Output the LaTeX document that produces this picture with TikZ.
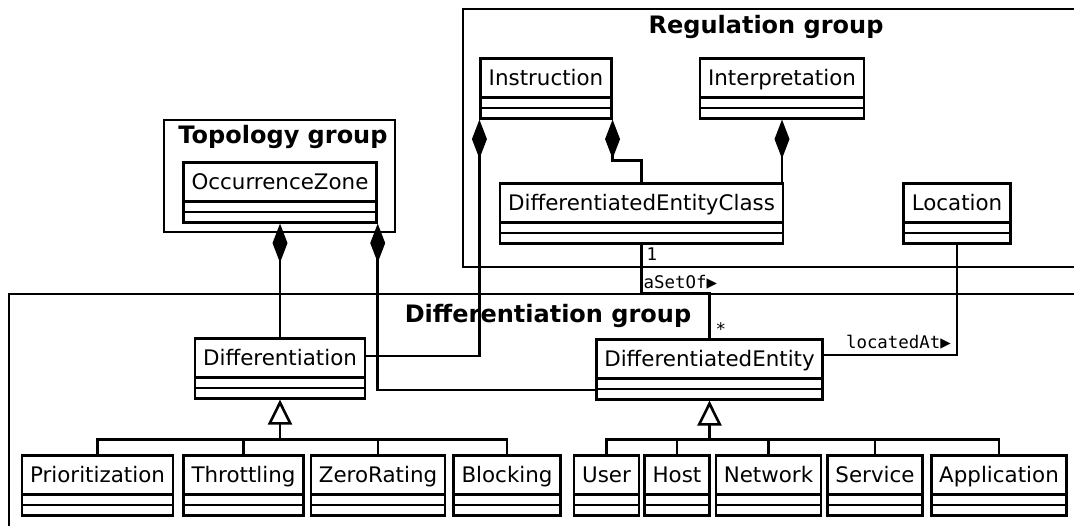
\documentclass[tikz,border=0pt]{standalone}
\usepackage{fontspec}
\setmainfont{DejaVu Sans}
\newfontfamily\labelmono{DejaVu Sans Mono}
\usetikzlibrary{arrows.meta,calc}

\tikzset{
  umlclass/.style={draw, fill=white, line width=2.6pt, inner xsep=8pt, inner ysep=0pt,
    text height=27.5pt, text depth=32.5pt, anchor=north,
    font=\fontsize{21.4}{25}\selectfont,
    path picture={\draw[line width=2.6pt]
      ([yshift=-39pt]path picture bounding box.north west) -- ([yshift=-39pt]path picture bounding box.north east)
      ([yshift=-49.5pt]path picture bounding box.north west) -- ([yshift=-49.5pt]path picture bounding box.north east);}},
  grouptitle/.style={anchor=base, inner sep=0pt, font=\fontsize{24}{28}\selectfont\bfseries},
  groupframe/.style={draw, line width=2.6pt},
  link/.style={draw, line width=2.6pt},
  composition/.style={link, {Diamond[length=39pt,width=15pt]}-},
  inherit/.style={link, -{Triangle[fill=white, length=25pt, width=24pt]}},
  assoclabel/.style={inner sep=0pt, font=\labelmono\fontsize{17.4}{20}\selectfont},
}

\begin{document}
\begin{tikzpicture}[x=1pt, y=-1pt]
  \useasboundingbox (0,0) rectangle (1074,525);
  \clip (0,0) rectangle (1074,525);

  % package frames
  \draw[groupframe] (164,120) rectangle (395,232);
  \draw[groupframe] (463,9) rectangle (1100,267);
  \draw[groupframe] (9,294) rectangle (1100,560);
  \node[grouptitle] (ttopo) at (283,143) {Topology group};
  \node[grouptitle] (treg) at (766,33) {Regulation group};
  \node[grouptitle] (tdiff) at (548,322) {Differentiation group};

  % regulation group
  \node[umlclass] (instr)  at (546,57)   {Instruction};
  \node[umlclass] (interp) at (782,57)   {Interpretation};
  \node[umlclass] (dec)    at (641.5,182) {DifferentiatedEntityClass};
  \node[umlclass] (loc)    at (957,182)  {Location};

  % topology group
  \node[umlclass] (oz) at (280,161) {OccurrenceZone};

  % differentiation group
  \node[umlclass] (diff) at (280,337)   {Differentiation};
  \node[umlclass] (de)   at (709.5,338) {DifferentiatedEntity};

  \node[umlclass] (prio) at (97.5,454)  {Prioritization};
  \node[umlclass] (thr)  at (243.5,454) {Throttling};
  \node[umlclass] (zr)   at (378,454)   {ZeroRating};
  \node[umlclass] (blk)  at (507,454)   {Blocking};

  \node[umlclass] (user) at (606.5,454) {User};
  \node[umlclass] (host) at (677,454)   {Host};
  \node[umlclass] (net)  at (768.5,454) {Network};
  \node[umlclass] (svc)  at (875,454)   {Service};
  \node[umlclass] (app)  at (999,454)   {Application};

  % compositions
  \draw[composition] (oz.south) -- (diff.north);
  \draw[composition] (oz.south east) |- ($(de.north west)+(0,52)$);
  \draw[composition] (instr.south west) |- ($(diff.north east)+(0,19)$);
  \draw[composition] (instr.south east) -- ++(0,41) -| (dec.north);
  \draw[composition] (interp.south) -- (interp.south |- dec.north);

  % associations
  \coordinate (asetof) at ($(dec.south)+(0,49)$);
  \draw[link] (dec.south) -- (asetof) -| (de.north);
  \node[assoclabel, anchor=base west] (one) at ($(dec.south)+(5,16)$) {1};
  \node[assoclabel, anchor=base west] (asetoflbl) at ($(dec.south)+(2,44)$) {aSetOf▶};
  \node[assoclabel, anchor=base west] (many) at ($(de.north)+(6,-3)$) {*};

  \coordinate (locc) at ($(de.north east)+(0,17)$);
  \draw[link] (locc) -| (loc.south);
  \node[assoclabel, anchor=base east] (locatedlbl) at ($(loc.south |- locc)+(-6,-7)$) {locatedAt▶};

  % generalisations
  \coordinate (dbar) at ($(diff.south)+(0,40)$);
  \draw[inherit] (dbar) -- (diff.south);
  \draw[link] (prio.north) |- (dbar) -| (blk.north);
  \draw[link] (thr.north) |- (dbar);
  \draw[link] (zr.north) |- (dbar);

  \coordinate (ebar) at ($(de.south)+(0,39)$);
  \draw[inherit] (ebar) -- (de.south);
  \draw[link] (user.north) |- (ebar) -| (app.north);
  \draw[link] (host.north) |- (ebar);
  \draw[link] (net.north) |- (ebar);
  \draw[link] (svc.north) |- (ebar);
\end{tikzpicture}
\end{document}
